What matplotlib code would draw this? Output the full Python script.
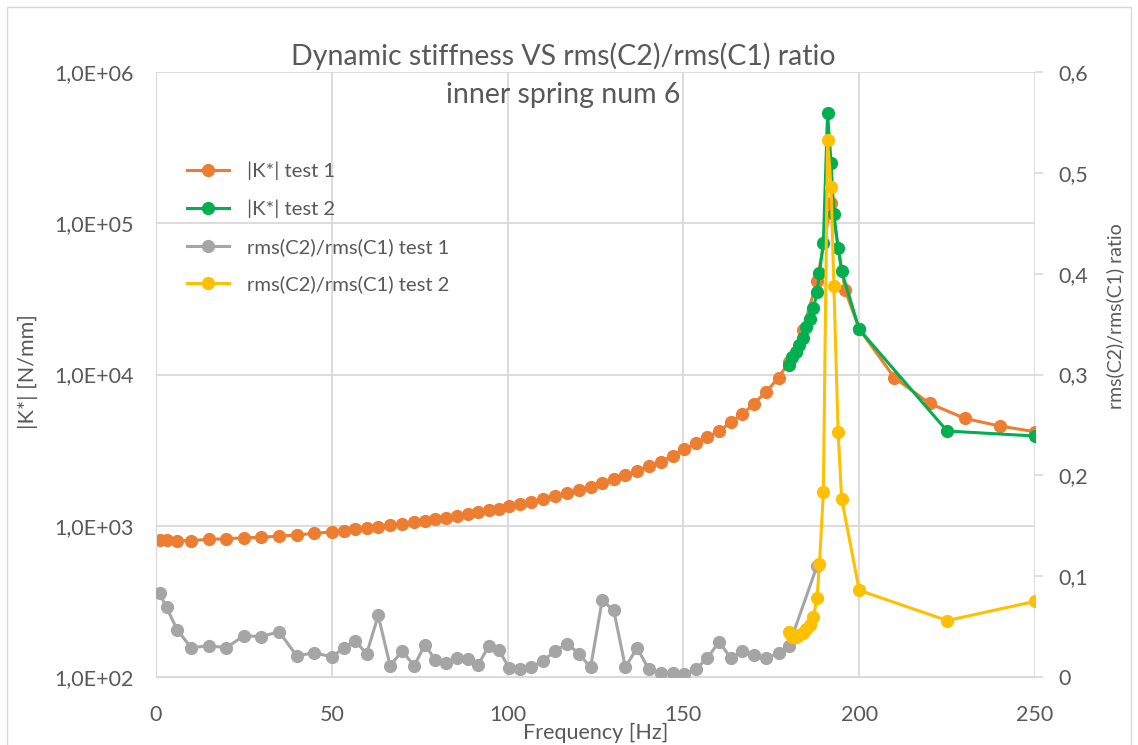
import matplotlib.pyplot as plt
from matplotlib.ticker import FuncFormatter
from matplotlib.patches import Rectangle

plt.rcParams['font.family'] = ['Lato', 'DejaVu Sans']

# частоты 1-й серии (test 1), Гц
freq_t1 = [1, 3, 6, 10, 15, 20, 25, 30, 35, 40, 45,
           50, 53.5, 56.6, 59.9, 63.2, 66.6, 70, 73.4, 76.5, 79.4,
           82.4, 85.5, 88.7, 91.6, 94.7, 97.5, 100.4, 103.5, 106.7, 110,
           113.6, 117, 120.3, 123.6, 126.9, 130.2, 133.5, 136.8, 140.1, 143.5,
           147, 150.3, 153.6, 156.7, 160.2, 163.5, 166.8, 170, 173.5, 177.1, 180]
# |K*| test 1, N/mm
k_t1 = [805, 805, 797, 797, 813, 820, 833, 838, 855, 868, 891,
        910, 928, 945, 965, 985, 1005, 1030, 1055, 1080, 1105,
        1130, 1160, 1195, 1230, 1265, 1300, 1345, 1395, 1445, 1505,
        1575, 1640, 1720, 1810, 1910, 2030, 2165, 2300, 2485, 2650,
        2890, 3200, 3520, 3840, 4250, 4830, 5480, 6380, 7700, 9520, 12150]
freq_t1_tail = [184, 188, 192, 196, 200, 210, 220, 230, 240, 250]
k_t1_tail = [19700, 41500, 136000, 36200, 20000, 9530, 6440, 5130, 4560, 4190]

# rms(C2)/rms(C1) test 1
ratio_t1 = [0.083, 0.069, 0.047, 0.029, 0.031, 0.029, 0.041, 0.040, 0.045, 0.021, 0.024,
            0.020, 0.029, 0.036, 0.023, 0.061, 0.011, 0.026, 0.011, 0.032, 0.017,
            0.014, 0.0185, 0.0175, 0.012, 0.031, 0.027, 0.009, 0.008, 0.010, 0.016,
            0.026, 0.033, 0.023, 0.0096, 0.076, 0.066, 0.0096, 0.029, 0.008, 0.0036,
            0.0036, 0.003, 0.008, 0.0185, 0.035, 0.0185, 0.026, 0.022, 0.0185, 0.024, 0.031]
freq_r1_tail = [188]
ratio_t1_tail = [0.11]

# test 2
freq_t2 = [180, 181, 182, 183, 184, 185, 186, 187, 188, 188.7, 189.8,
           191, 192, 192.8, 194, 195, 200, 225, 250]
k_t2 = [11560, 13120, 14160, 15680, 17350, 20700, 23200, 27400, 35100, 46600, 74300,
        533000, 251000, 115000, 68900, 48300, 19900, 4230, 3920]
ratio_t2 = [0.045, 0.040, 0.040, 0.042, 0.044, 0.048, 0.052, 0.060, 0.078, 0.112, 0.183,
            0.533, 0.486, 0.388, 0.243, 0.177, 0.086, 0.056, 0.075]

c_orange = '#ED7D31'
c_green = '#00B050'
c_gray = '#A5A5A5'
c_yellow = '#FFC000'
txt = '#595959'
grid_c = '#D9D9D9'

fig = plt.figure(figsize=(11.38, 7.45), dpi=100)
ax = fig.add_axes([156 / 1138, 1 - 677 / 745, (1035 - 156) / 1138, (677 - 72) / 745])
ax2 = ax.twinx()

st = dict(marker='o', markersize=8.5, linewidth=2.2, solid_joinstyle='round')
l1, = ax.plot(freq_t1 + freq_t1_tail, k_t1 + k_t1_tail, color=c_orange, label='|K*| test 1', **st)
l2, = ax.plot(freq_t2, k_t2, color=c_green, label='|K*| test 2', **st)
l3, = ax2.plot(freq_t1 + freq_r1_tail, ratio_t1 + ratio_t1_tail, color=c_gray,
               label='rms(C2)/rms(C1) test 1', **st)
l4, = ax2.plot(freq_t2, ratio_t2, color=c_yellow, label='rms(C2)/rms(C1) test 2', **st)

ax.set_yscale('log')
ax.set_ylim(1e2, 1e6)
ax.set_xlim(0, 250)
ax.set_xticks([0, 50, 100, 150, 200, 250])
ax.yaxis.set_major_formatter(FuncFormatter(lambda v, p: f'{v:.1E}'.replace('.', ',')))
ax.yaxis.set_minor_locator(plt.NullLocator())
ax2.set_ylim(0, 0.6)
ax2.set_yticks([0, 0.1, 0.2, 0.3, 0.4, 0.5, 0.6])
ax2.yaxis.set_major_formatter(FuncFormatter(lambda v, p: '0' if v == 0 else f'{v:.1f}'.replace('.', ',')))

ax.grid(True, color=grid_c, linewidth=1.3)
ax.set_axisbelow(True)
for a in (ax, ax2):
    for s in a.spines.values():
        s.set_visible(False)
    a.tick_params(length=0, labelsize=15.5, colors=txt)
ax.spines['left'].set_visible(True)
ax.spines['left'].set_color(grid_c)
ax.spines['bottom'].set_visible(True)
ax.spines['bottom'].set_color(grid_c)
ax.tick_params(axis='x', pad=20)
ax.tick_params(axis='y', pad=16)
ax2.tick_params(axis='y', length=6, width=1.2, color=grid_c, pad=11)

# подписи осей
fig.text(596 / 1138, 1 - 733 / 745, 'Frequency [Hz]', ha='center', va='center',
         fontsize=15.5, color=txt)
fig.text(28 / 1138, 1 - 372 / 745, '|K*| [N/mm]', ha='center', va='center',
         rotation=90, fontsize=15.5, color=txt)
fig.text(1115 / 1138, 1 - 316 / 745, 'rms(C2)/rms(C1) ratio', ha='center', va='center',
         rotation=90, fontsize=14, color=txt)

fig.text(0.495, 1 - 75 / 745, 'Dynamic stiffness VS rms(C2)/rms(C1) ratio\ninner spring num 6',
         ha='center', va='center', fontsize=20.5, color=txt, linespacing=1.6)

ax2.legend(handles=[l1, l2, l3, l4], loc='upper left', bbox_to_anchor=(0.014, 0.882),
           frameon=False, fontsize=14.6, labelcolor=txt, handlelength=2.1,
           handletextpad=0.9, labelspacing=0.97)

fig.patches.append(Rectangle((7 / 1138, -0.01), 1124 / 1138, 1.0, transform=fig.transFigure,
                             fill=False, edgecolor=grid_c, linewidth=1))

plt.savefig('out.png', dpi=100)
